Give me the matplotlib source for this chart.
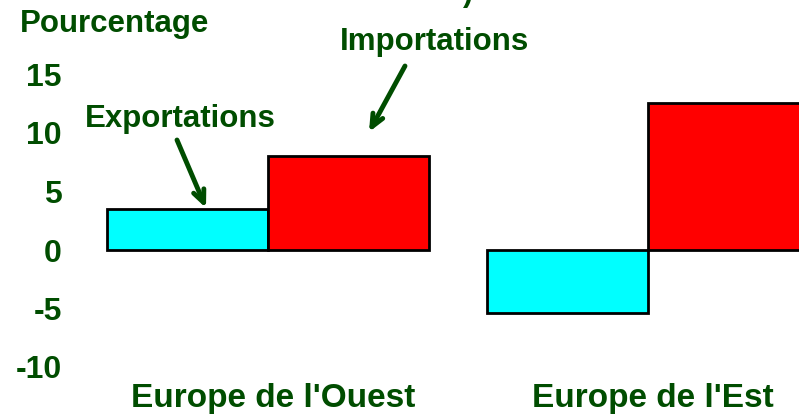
import matplotlib
matplotlib.use("Agg")
import matplotlib.pyplot as plt
import numpy as np

plt.rcParams['font.family'] = ['Liberation Sans', 'DejaVu Sans']

categories = ["Europe de l'Ouest", "Europe de l'Est"]
exportations = [3.5, -5.4]
importations = [8.0, 12.6]
yticks = [15, 10, 5, 0, -5, -10]

GREEN = '#004d00'
W, H = 799, 416

fig = plt.figure(figsize=(W / 100, H / 100), dpi=100)
left, right, top, bottom = 70, 799, 20, 380
ax = fig.add_axes([left / W, 1 - bottom / H, (right - left) / W, (bottom - top) / H])

x = np.arange(len(categories))
width = 0.424
ax.bar(x - width / 2, exportations, width, color='#00ffff', edgecolor='black', linewidth=2.0)
ax.bar(x + width / 2, importations, width, color='#ff0000', edgecolor='black', linewidth=2.0)

px_per_unit = 11.7
zero_px = 250
ax.set_ylim((zero_px - bottom) / px_per_unit, (zero_px - top) / px_per_unit)
cx0, spacing = 268, 380
ax.set_xlim((left - cx0) / spacing, (right - cx0) / spacing)

ax.set_yticks(yticks)
ax.set_yticklabels([str(t) for t in yticks], fontsize=23, fontweight='bold', color=GREEN)
ax.set_xticks(x + 0.013)
ax.set_xticklabels(categories, fontsize=24, fontweight='bold', color=GREEN)
ax.tick_params(axis='both', length=0)
ax.tick_params(axis='y', pad=6)
ax.tick_params(axis='x', pad=2)
for s in ax.spines.values():
    s.set_visible(False)

def fy(y):
    return H - y

fig.text(20 / W, fy(24) / H, "Pourcentage", fontsize=22.5, fontweight='bold', color=GREEN,
         ha='left', va='center')
fig.text(435 / W, fy(42) / H, "Importations", fontsize=22.5, fontweight='bold', color=GREEN,
         ha='center', va='center')
fig.text(180 / W, fy(119) / H, "Exportations", fontsize=22.5, fontweight='bold', color=GREEN,
         ha='center', va='center')
fig.text(468 / W, fy(-7) / H, ")", fontsize=22, fontweight='bold', color=GREEN,
         ha='center', va='center')

arrowprops = dict(arrowstyle='->,head_length=0.9,head_width=0.4', color=GREEN, lw=3.5,
                  shrinkA=0, shrinkB=0)
ax.annotate('', xy=(206, fy(208)), xytext=(177, fy(140)), xycoords='figure pixels',
            textcoords='figure pixels', arrowprops=arrowprops, annotation_clip=False)
ax.annotate('', xy=(369, fy(132)), xytext=(405, fy(66)), xycoords='figure pixels',
            textcoords='figure pixels', arrowprops=arrowprops, annotation_clip=False)

fig.savefig('out.png', dpi=100)
